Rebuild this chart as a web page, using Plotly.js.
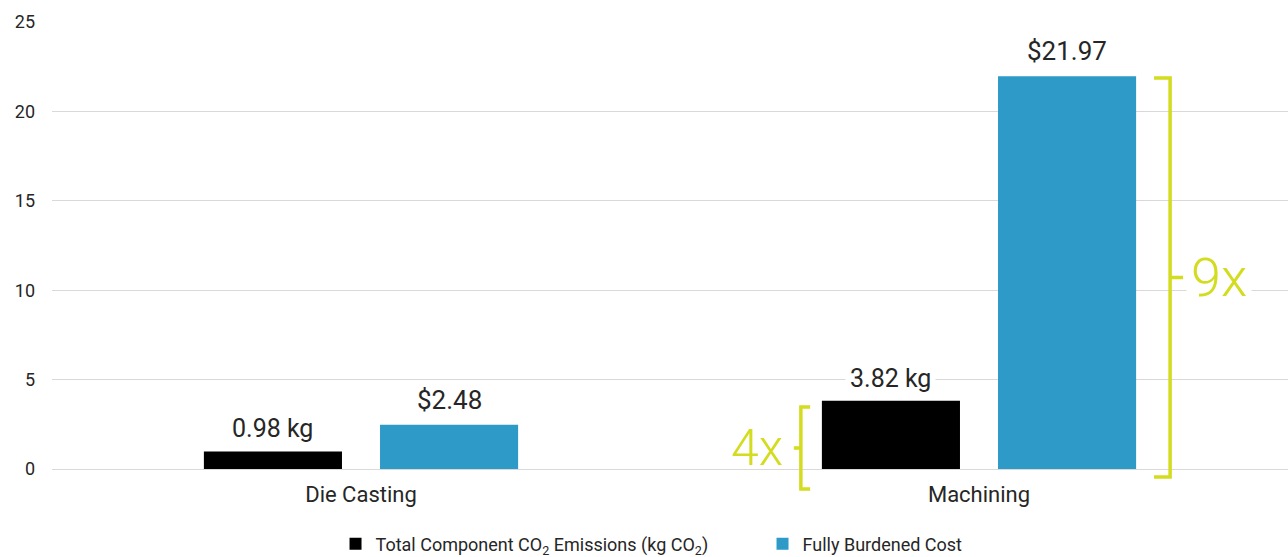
<!DOCTYPE html>
<html>
<head>
<meta charset="utf-8">
<script src="https://cdn.plot.ly/plotly-3.0.1.min.js"></script>
<style>html,body{margin:0;padding:0;background:#fff;}#chart{width:1288px;height:557px;}</style>
</head>
<body>
<div id="chart"></div>
<script>
// ---- data ----
const categories = ["Die Casting", "Machining"];
const co2Values = [0.98, 3.82];
const costValues = [2.48, 21.97];
const co2Labels = ["0.98 kg", "3.82 kg"];
const costLabels = ["$2.48", "$21.97"];
const seriesNames = ["Total Component CO<sub>2</sub> Emissions (kg CO<sub>2</sub>)", "Fully Burdened Cost"];
const yTicks = [0, 5, 10, 15, 20, 25];
const ratioLabels = ["4x", "9x"];

// ---- style ----
const BLACK = "#000000", BLUE = "#2e9ac8", LIME = "#d3dc1f", TXT = "#262626";
const BARGAP = 0.43, GROUPGAP = 0.216;
const slot = (1 - BARGAP) / 2;          // width of one bar slot in category units
const off = slot / 2;                    // bar centre offset from category centre
const YMAX = 25;
const xp = c => (c + 0.5) / 2;           // category coordinate -> paper x
const yp = v => v / YMAX;                // data value -> paper y

const traces = [
  {type: "bar", x: categories, y: co2Values, name: seriesNames[0],
   marker: {color: BLACK}, hoverinfo: "skip"},
  {type: "bar", x: categories, y: costValues, name: seriesNames[1],
   marker: {color: BLUE}, hoverinfo: "skip"}
];

const annotations = [];
categories.forEach((c, i) => {
  annotations.push({x: i - off, y: co2Values[i], xref: "x", yref: "y", text: co2Labels[i],
    showarrow: false, yanchor: "bottom", yshift: 3, bgcolor: "#ffffff", borderpad: 4,
    font: {family: "Roboto", size: 25, color: TXT}});
  annotations.push({x: i + off, y: costValues[i], xref: "x", yref: "y", text: costLabels[i],
    showarrow: false, yanchor: "bottom", yshift: 5, bgcolor: "#ffffff", borderpad: 4,
    font: {family: "Roboto", size: 26, color: TXT}});
});

// bracket geometry (decoration) in paper coords
const b4 = {x: xp(1 - off - slot * (1 - GROUPGAP) / 2) - 0.017, lo: yp(-1.12), hi: yp(3.47)};
const b9 = {x: xp(1 + off + slot * (1 - GROUPGAP) / 2) + 0.0275, lo: yp(-0.45), hi: yp(21.87)};
const b4mid = (b4.lo + b4.hi) / 2, b9mid = (b9.lo + b9.hi) / 2;
const line = {color: LIME, width: 3.5};
const shapes = [
  {type: "path", xref: "paper", yref: "paper", line,
   path: `M${b4.x + 0.0075},${b4.hi} L${b4.x},${b4.hi} L${b4.x},${b4.lo} L${b4.x + 0.0075},${b4.lo} M${b4.x},${b4mid} L${b4.x - 0.0057},${b4mid}`},
  {type: "path", xref: "paper", yref: "paper", line,
   path: `M${b9.x - 0.013},${b9.hi} L${b9.x},${b9.hi} L${b9.x},${b9.lo} L${b9.x - 0.013},${b9.lo} M${b9.x},${b9mid} L${b9.x + 0.0105},${b9mid}`}
];
annotations.push({xref: "paper", yref: "paper", x: b4.x - 0.0125, y: b4mid, xanchor: "right", yanchor: "middle",
  text: ratioLabels[0], showarrow: false, font: {family: "Roboto", size: 50, color: LIME, weight: 300}});
annotations.push({xref: "paper", yref: "paper", x: b9.x + 0.013, y: b9mid, xanchor: "left", yanchor: "middle",
  text: ratioLabels[1], showarrow: false, bgcolor: "#ffffff", borderpad: 4,
  font: {family: "Roboto", size: 54, color: LIME, weight: 300}});

const layout = {
  width: 1288, height: 557,
  margin: {l: 52, r: 0, t: 22, b: 88},
  paper_bgcolor: "#ffffff", plot_bgcolor: "#ffffff",
  barmode: "group", bargap: BARGAP, bargroupgap: GROUPGAP,
  font: {family: "Roboto", color: TXT},
  xaxis: {type: "category", showgrid: false, zeroline: false, showline: false, ticks: "",
    tickfont: {family: "Roboto", size: 22, color: TXT}, ticklabelstandoff: 10, fixedrange: true,
    automargin: false},
  yaxis: {range: [0, YMAX], tickvals: yTicks, ticktext: yTicks.map(String), showgrid: true,
    gridcolor: "#d9d9d9", gridwidth: 1, zeroline: true, zerolinecolor: "#d9d9d9", zerolinewidth: 1,
    showline: false, ticks: "", tickfont: {family: "Roboto", size: 18, color: TXT},
    ticklabelstandoff: 16, fixedrange: true, automargin: false},
  legend: {orientation: "h", xref: "container", yref: "container", x: 0.2605, xanchor: "left",
    y: 0.0233, yanchor: "middle",
    font: {family: "Roboto", size: 18, color: TXT}, itemwidth: 30, tracegroupgap: 0,
    entrywidth: 382},
  showlegend: true,
  annotations, shapes
};

Plotly.newPlot("chart", traces, layout, {displayModeBar: false, staticPlot: true});
</script>
</body>
</html>
